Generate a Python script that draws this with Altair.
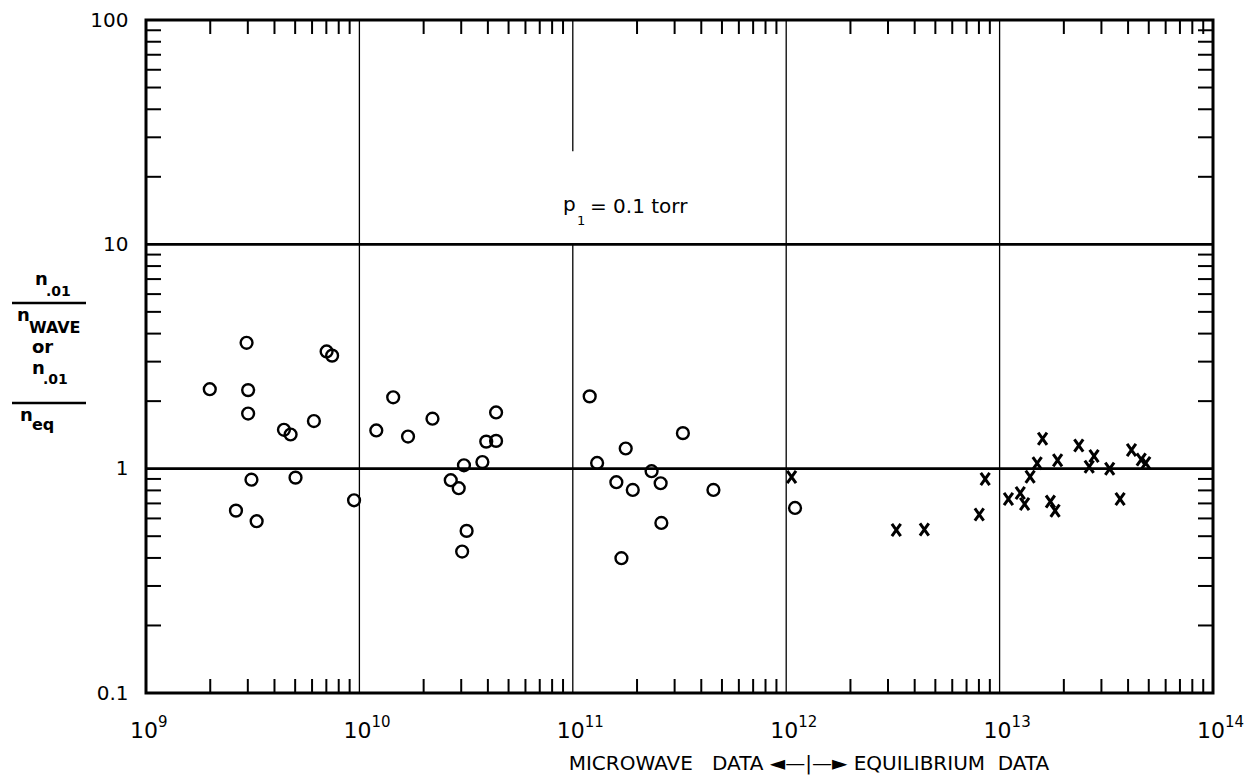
import altair as alt
import pandas as pd

# ---------------- data ----------------
circle_x = [1.99e9, 2.96e9, 3.01e9, 3.01e9, 3.12e9, 5.02e9, 2.64e9, 3.30e9, 4.43e9, 4.76e9,
            6.12e9, 7.02e9, 7.45e9, 9.44e9, 1.20e10, 1.44e10, 1.69e10, 2.20e10, 2.68e10, 2.92e10,
            3.09e10, 3.03e10, 3.18e10, 3.77e10, 3.93e10, 4.37e10, 4.37e10, 1.20e11, 1.30e11, 1.60e11,
            1.69e11, 1.77e11, 1.91e11, 2.34e11, 2.58e11, 2.60e11, 3.28e11, 4.56e11, 1.10e12]
circle_y = [2.26, 3.64, 2.24, 1.76, 0.893, 0.912, 0.650, 0.583, 1.49, 1.42,
            1.63, 3.33, 3.19, 0.723, 1.48, 2.08, 1.39, 1.67, 0.888, 0.818,
            1.035, 0.427, 0.528, 1.07, 1.32, 1.78, 1.33, 2.10, 1.06, 0.870,
            0.399, 1.23, 0.804, 0.974, 0.861, 0.573, 1.44, 0.804, 0.668]

cross_x = [1.06e12, 3.28e12, 4.44e12, 8.03e12, 8.56e12, 1.10e13, 1.25e13, 1.31e13, 1.39e13, 1.50e13,
           1.59e13, 1.73e13, 1.82e13, 1.87e13, 2.35e13, 2.63e13, 2.77e13, 3.28e13, 3.67e13, 4.15e13,
           4.61e13, 4.84e13]
cross_y = [0.918, 0.533, 0.535, 0.624, 0.900, 0.733, 0.779, 0.696, 0.921, 1.057,
           1.36, 0.713, 0.650, 1.09, 1.27, 1.02, 1.14, 1.00, 0.733, 1.21,
           1.10, 1.06]

x_decades = [1e9, 1e10, 1e11, 1e12, 1e13, 1e14]
x_exponents = ["9", "10", "11", "12", "13", "14"]
y_ticks = [0.1, 1, 10, 100]

# vertical grid segments (decade, from, to)
vgrid_x = [1e10, 1e11, 1e11, 1e12, 1e13]
vgrid_lo = [0.1, 0.1, 26, 0.1, 0.1]
vgrid_hi = [100, 10, 100, 100, 100]
hgrid_y = [1, 10]

x_minor = [m * 10 ** k for k in range(9, 14) for m in range(2, 10)]
y_minor = [m * 10.0 ** k for k in range(-1, 2) for m in range(2, 10)]

# ---------------- layout ----------------
W, H = 1067, 673
FONT = "DejaVu Sans"
xs = alt.Scale(type="log", domain=[1e9, 1e14], nice=False)
ys = alt.Scale(type="log", domain=[0.1, 100], nice=False)
yaxis = alt.Axis(values=y_ticks, format=".1~f", ticks=False, domain=False, grid=False,
                 labelPadding=18, labelFontSize=20, labelFont=FONT, labelColor="black",
                 title=None)

pts = pd.DataFrame({"x": circle_x, "y": circle_y})
crs = pd.DataFrame({"x": cross_x, "y": cross_y})
vg = pd.DataFrame({"x": vgrid_x, "lo": vgrid_lo, "hi": vgrid_hi})
hg = pd.DataFrame({"y": hgrid_y})
xm = pd.DataFrame({"x": x_minor})
ym = pd.DataFrame({"y": y_minor})
dec = pd.DataFrame({"x": x_decades, "base": ["10"] * len(x_decades), "exp": x_exponents})

X = lambda f="x": alt.X(f"{f}:Q", scale=xs, axis=None)
Y = lambda f="y": alt.Y(f"{f}:Q", scale=ys, axis=yaxis)

vgrid = alt.Chart(vg).mark_rule(color="black", strokeWidth=1.3).encode(
    x=X(), y=alt.Y("lo:Q", scale=ys, axis=yaxis), y2="hi:Q")
hgrid = alt.Chart(hg).mark_rule(color="black", strokeWidth=2.6).encode(
    y=Y(), x=alt.value(0), x2=alt.value(W))

tick_style = dict(color="black", strokeWidth=2)
xmin_b = alt.Chart(xm).mark_rule(**tick_style).encode(x=X(), y=alt.value(H), y2=alt.value(H - 14))
xmin_t = alt.Chart(xm).mark_rule(**tick_style).encode(x=X(), y=alt.value(0), y2=alt.value(14))
ymin_l = alt.Chart(ym).mark_rule(**tick_style).encode(y=Y(), x=alt.value(0), x2=alt.value(15))
ymin_r = alt.Chart(ym).mark_rule(**tick_style).encode(y=Y(), x=alt.value(W), x2=alt.value(W - 15))

circles = alt.Chart(pts).mark_point(shape="circle", filled=False, color="black",
                                    strokeWidth=2.4, size=140, opacity=1).encode(x=X(), y=Y())
crosses = alt.Chart(crs).mark_point(shape="M-0.72,-1L0.72,1M-0.72,1L0.72,-1",
                                    filled=False, color="black", strokeWidth=3,
                                    size=150, opacity=1).encode(x=X(), y=Y())

xlab = alt.Chart(dec).mark_text(font=FONT, fontSize=22, align="right", baseline="alphabetic",
                                dx=12, color="black").encode(x=X(), y=alt.value(H + 45), text="base:N")
xexp = alt.Chart(dec).mark_text(font=FONT, fontSize=15, align="left", baseline="alphabetic",
                                dx=12, color="black").encode(x=X(), y=alt.value(H + 34), text="exp:N")

one = pd.DataFrame({"a": [0]})


def label(txt, x, y, size, bold=False, align="left"):
    return alt.Chart(one).mark_text(text=txt, font=FONT, fontSize=size, align=align,
                                    baseline="alphabetic", color="black", fill="black",
                                    fontWeight="bold" if bold else "normal").encode(
        x=alt.value(x), y=alt.value(y))


def bar(x1, x2, y):
    return alt.Chart(one).mark_rule(color="black", strokeWidth=2.6).encode(
        x=alt.value(x1), x2=alt.value(x2), y=alt.value(y))


NB = "\u00a0"
xtitle = label(f"MICROWAVE{NB}{NB}{NB}DATA{NB}◄—|—►{NB}EQUILIBRIUM{NB}{NB}DATA", 663, 750, 20,
               align="center")

annot = [
    label("p", 417, 191, 20),
    label("1", 431, 205, 13),
    label("= 0.1 torr", 444, 193, 20),
]

frac = [
    label("n", -111, 265, 18, True),
    label(".01", -100, 276, 14, True),
    bar(-134, -60, 283),
    label("n", -129, 301, 18, True),
    label("WAVE", -117, 313, 16, True),
    label("or", -114, 333, 18, True),
    label("n", -114, 354, 18, True),
    label(".01", -103, 364, 14, True),
    bar(-134, -60, 383),
    label("n", -126, 401, 18, True),
    label("eq", -114, 410, 16, True),
]

chart = alt.layer(
    vgrid, hgrid, xmin_b, xmin_t, ymin_l, ymin_r, circles, crosses, xlab, xexp, xtitle,
    *annot, *frac
).properties(
    width=W, height=H, autosize="none",
    padding={"left": 146, "top": 20, "right": 35, "bottom": 84},
    background="white",
).configure_view(stroke="black", strokeWidth=3)

chart.save("out.html", embed_options={"renderer": "svg", "actions": False})
